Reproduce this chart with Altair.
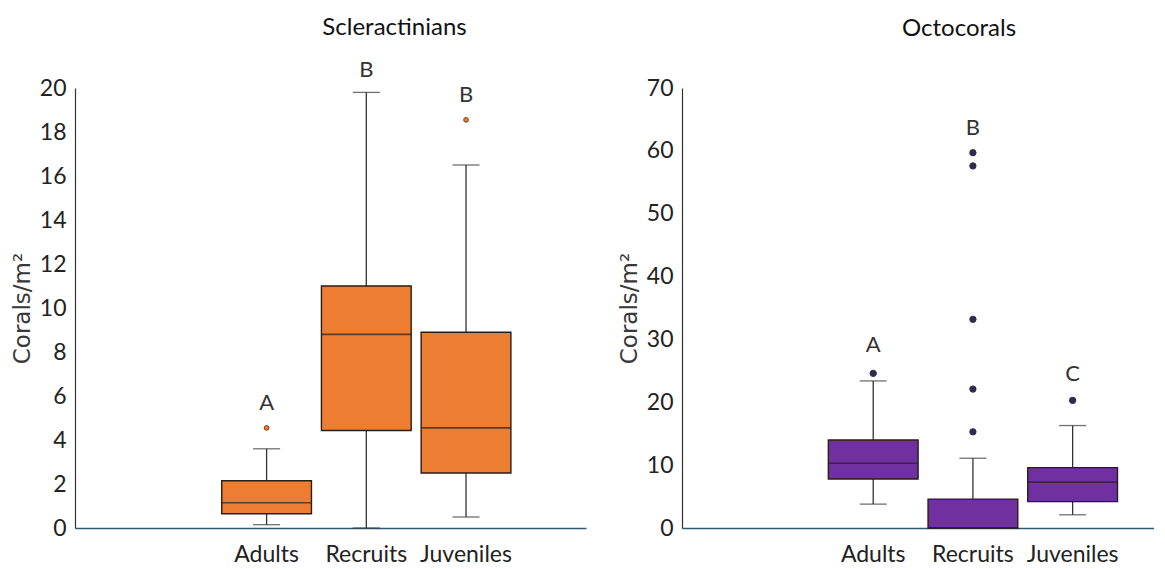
import altair as alt
import pandas as pd

categories = ["Adults", "Recruits", "Juveniles"]
x_domain = [" "] + categories  # empty leading slot, as in the figure

# Scleractinians (summary statistics)
scl_low = [0.15, 0.0, 0.5]
scl_q1 = [0.65, 4.43, 2.5]
scl_med = [1.15, 8.8, 4.55]
scl_q3 = [2.15, 11.0, 8.9]
scl_high = [3.6, 19.8, 16.5]
scl_out_cat = ["Adults", "Juveniles"]
scl_out_val = [4.55, 18.55]
scl_letters = ["A", "B", "B"]
scl_letter_y = [5.7, 20.8, 19.7]
scl_ticks = [0, 2, 4, 6, 8, 10, 12, 14, 16, 18, 20]

# Octocorals
oct_low = [3.8, 0.0, 2.1]
oct_q1 = [7.8, 0.0, 4.2]
oct_med = [10.3, 0.0, 7.3]
oct_q3 = [14.0, 4.6, 9.6]
oct_high = [23.4, 11.1, 16.3]
oct_out_cat = ["Adults", "Recruits", "Recruits", "Recruits", "Recruits", "Recruits", "Juveniles"]
oct_out_val = [24.6, 59.7, 57.6, 33.2, 22.1, 15.3, 20.3]
oct_letters = ["A", "B", "C"]
oct_letter_y = [29.1, 63.7, 24.5]
oct_ticks = [0, 10, 20, 30, 40, 50, 60, 70]

LABEL_FONT = "Lato"
TITLE_FONT = "Lato"
YTITLE_FONT = "DejaVu Sans"
PAD_INNER = 0.1


def panel(title, low, q1, med, q3, high, out_cat, out_val, letters, letter_y,
          ticks, fill, dot_fill, dot_stroke, dot_size, width, po, align, title_dx,
          title_offset):
    box = pd.DataFrame({"cat": categories, "low": low, "q1": q1, "med": med,
                        "q3": q3, "high": high, "letter": letters, "ly": letter_y})
    outs = pd.DataFrame({"cat": out_cat, "val": out_val})
    xscale = alt.Scale(domain=x_domain, paddingInner=PAD_INNER,
                       paddingOuter=po, align=align)
    xaxis = alt.Axis(title=None, labelAngle=0, ticks=False, domainColor="#2f5a76",
                     domainWidth=1.5, labelFontSize=23, labelPadding=15,
                     labelColor="#222222", labelFont=LABEL_FONT, grid=False)
    x = alt.X("cat:N", scale=xscale, sort=x_domain, axis=xaxis)
    yscale = alt.Scale(domain=[ticks[0], ticks[-1]], nice=False)
    yaxis = alt.Axis(title="Corals/m²", values=ticks, grid=False, ticks=False,
                     domainColor="#333333", domainWidth=1.2, labelFontSize=23,
                     labelFont=LABEL_FONT, labelColor="#222222", labelPadding=9,
                     titleFont=YTITLE_FONT, titleFontSize=23, titleFontWeight="normal",
                     titleColor="#383838", titlePadding=5)

    def Y(field):
        return alt.Y(f"{field}:Q", scale=yscale, axis=yaxis)

    step = width / (len(x_domain) - PAD_INNER + 2 * po)

    whisker = alt.Chart(box).mark_rule(color="#333333", strokeWidth=1.3).encode(
        x=x, y=Y("low"), y2="high")
    cap_lo = alt.Chart(box).mark_tick(color="#333333", thickness=1.3, size=27).encode(
        x=x, y=Y("low"))
    cap_hi = alt.Chart(box).mark_tick(color="#333333", thickness=1.3, size=27).encode(
        x=x, y=Y("high"))
    bar = alt.Chart(box).mark_bar(fill=fill, stroke="#2b1d14", strokeWidth=1.4).encode(
        x=x, y=Y("q1"), y2="q3")
    median = alt.Chart(box).mark_tick(color="#2b1d14", thickness=1.6,
                                      size=step * (1 - PAD_INNER)).encode(
        x=x, y=Y("med"))
    dots = alt.Chart(outs).mark_circle(fill=dot_fill, stroke=dot_stroke, strokeWidth=1,
                                       size=dot_size, opacity=1).encode(
        x=x, y=Y("val"))
    text = alt.Chart(box).mark_text(font=LABEL_FONT, fontSize=22, color="#333333",
                                    baseline="middle").encode(
        x=x, y=Y("ly"), text="letter:N")

    return alt.layer(whisker, cap_lo, cap_hi, bar, median, dots, text).properties(
        width=width, height=440,
        title=alt.TitleParams(title, font=TITLE_FONT, fontSize=24, fontWeight="normal",
                              color="#111111", anchor="middle", frame="group",
                              dx=title_dx, offset=title_offset))


left = panel("Scleractinians", scl_low, scl_q1, scl_med, scl_q3, scl_high,
             scl_out_cat, scl_out_val, scl_letters, scl_letter_y, scl_ticks,
             "#ED7D31", "#ED7D31", "#7a3b1c", 22, 511, 0.6125, 0.385, 64, 19)
right = panel("Octocorals", oct_low, oct_q1, oct_med, oct_q3, oct_high,
              oct_out_cat, oct_out_val, oct_letters, oct_letter_y, oct_ticks,
              "#7030A0", "#2e2b4f", "#2e2b4f", 40, 472, 0.417, 0.561, 41, 36)

chart = alt.hconcat(left, right, spacing=32).properties(
    padding={"left": 3, "top": 8, "right": 0, "bottom": 0}
).configure_view(stroke=None)

chart.save("out.html", embed_options={"renderer": "svg", "actions": False})
